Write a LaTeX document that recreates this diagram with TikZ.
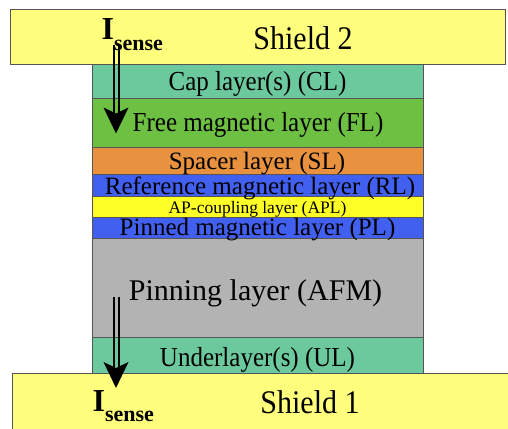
\documentclass[tikz,border=0pt]{standalone}
\usepackage{fontspec}
\usepackage{graphicx}
\setmainfont{Liberation Serif}
\usetikzlibrary{calc}

\definecolor{shieldfill}{RGB}{255,255,125}
\definecolor{capfill}{RGB}{108,201,157}
\definecolor{freefill}{RGB}{110,192,66}
\definecolor{spacerfill}{RGB}{232,146,64}
\definecolor{magfill}{RGB}{66,96,240}
\definecolor{aplfill}{RGB}{255,255,40}
\definecolor{afmfill}{RGB}{179,179,179}
\definecolor{edgegray}{RGB}{85,85,85}

\tikzset{
  slab/.style={draw=edgegray, line width=0.8pt, rectangle, inner sep=0pt, outer sep=0pt},
  stackslab/.style={slab, minimum width=331pt},
  lbl/.style={anchor=base, inner sep=0pt, font=\fontsize{25}{30}\selectfont},
  biglbl/.style={anchor=base, inner sep=0pt, font=\fontsize{30}{36}\selectfont},
  curlbl/.style={anchor=base west, inner sep=0pt},
  shaftline/.style={line width=2pt, black},
  headfill/.style={fill=black}
}

% slightly tall lettering
\newcommand{\tall}[1]{\scalebox{1}[1.1]{#1}}
\newcommand{\isense}{{\fontsize{32}{32}\selectfont\bfseries I}{\fontsize{22}{22}\selectfont\bfseries\raisebox{-10pt}{sense}}}

\begin{document}
\begin{tikzpicture}[x=1pt,y=-1pt]
\useasboundingbox (0,0) rectangle (508,428);

% shields
\node[slab, fill=shieldfill, minimum width=495pt, minimum height=55pt] (sh2) at (257.5,36.5) {};
\node[slab, fill=shieldfill, minimum width=500pt, minimum height=60pt] (sh1) at (262,403) {};

% sensor stack, top to bottom
\node[stackslab, fill=capfill,    minimum height=34pt] (cl)  at (257.5,81)    {};
\node[stackslab, fill=freefill,   minimum height=49pt] (fl)  at (257.5,122.5) {};
\node[stackslab, fill=spacerfill, minimum height=27pt] (sl)  at (257.5,160.5) {};
\node[stackslab, fill=magfill,    minimum height=22pt] (rl)  at (257.5,185)   {};
\node[stackslab, fill=aplfill,    minimum height=21pt] (apl) at (257.5,206.5) {};
\node[stackslab, fill=magfill,    minimum height=21pt] (pl)  at (257.5,227.5) {};
\node[stackslab, fill=afmfill,    minimum height=99pt] (afm) at (257.5,287.5) {};
\node[stackslab, fill=capfill,    minimum height=36pt] (ul)  at (257.5,355)   {};

% labels
\node[biglbl] (tsh2) at (303,49.3) {\tall{Shield 2}};
\node[biglbl] (tsh1) at (310,413) {\tall{Shield 1}};
\node[lbl] (tcl)  at (257.5,90)   {\tall{Cap layer(s) (CL)}};
\node[lbl] (tfl)  at (258,131.7)  {\tall{Free magnetic layer (FL)}};
\node[lbl] (tsl)  at (257,169.3)  {Spacer layer (SL)};
\node[lbl] (trl)  at (260,194)    {Reference magnetic layer (RL)};
\node[anchor=base, inner sep=0pt, font=\fontsize{17.5}{20}\selectfont] (tapl) at (257.5,213.3) {AP-coupling layer (APL)};
\node[lbl] (tpl)  at (257.5,235.5) {Pinned magnetic layer (PL)};
\node[biglbl] (tafm) at (255.5,300) {Pinning layer (AFM)};
\node[lbl] (tul)  at (257.5,366.7) {\tall{Underlayer(s) (UL)}};

% sense current labels
\node[curlbl] (itop) at (101.4,40) {\isense};
\node[curlbl] (ibot) at (92.4,411.7) {\isense};

% sense current arrows: hollow double shaft with a notched head
\coordinate (atop) at (116,45);
\coordinate (atip) at (116,133.5);
\coordinate (btop) at (116,297);
\coordinate (btip) at (116,388);

\foreach \s/\t in {atop/atip, btop/btip}{
  \draw[shaftline] ($(\s)+(-2.5,0)$) -- ($(\t)+(-2.5,-20)$);
  \draw[shaftline] ($(\s)+(2.5,0)$) -- ($(\t)+(2.5,-20)$);
  \fill[headfill] (\t) -- ($(\t)+(-12.5,-26)$) -- ($(\t)+(0,-20)$) -- ($(\t)+(12.5,-26)$) -- cycle;
}
\end{tikzpicture}
\end{document}
